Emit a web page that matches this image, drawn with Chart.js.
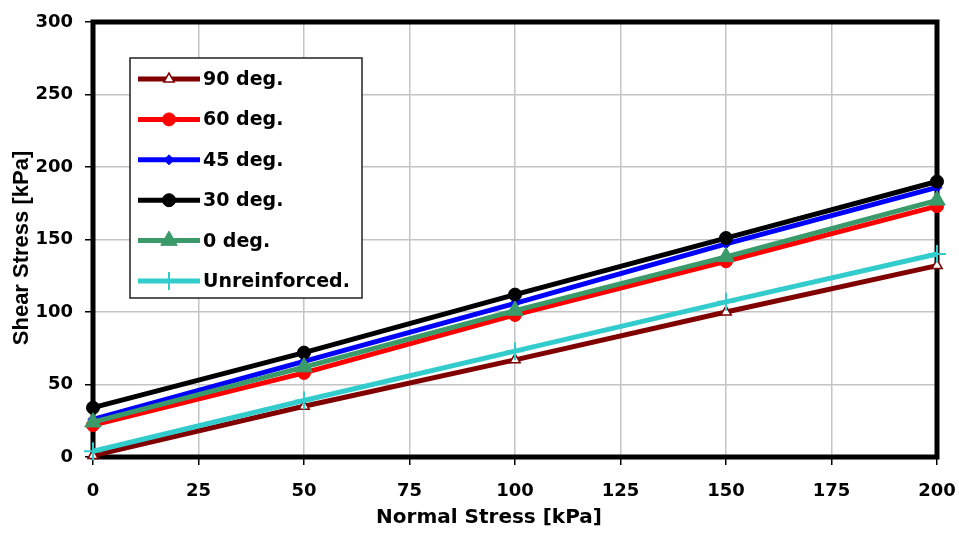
<!DOCTYPE html>
<html>
<head>
<meta charset="utf-8">
<script src="https://cdn.jsdelivr.net/npm/chart.js"></script>
<style>
  html, body { margin: 0; padding: 0; background: #fff; }
  #wrap { width: 959px; height: 533px; }
</style>
</head>
<body>
<div id="wrap"><canvas id="chart" width="959" height="533"></canvas></div>
<script>
// values
const normalStress = [0, 50, 100, 150, 200];
const deg90 = [1, 35, 67, 100, 132];
const deg60 = [22, 58, 98, 135, 173];
const deg45 = [26, 66, 106, 147, 186];
const deg30 = [34, 72, 112, 151, 190];
const deg0 = [24, 62, 101, 138, 177];
const unreinforced = [4, 39, 73, 107, 140];

const seriesNames = ['90 deg.', '60 deg.', '45 deg.', '30 deg.', '0 deg.', 'Unreinforced.'];
const xTitle = 'Normal Stress [kPa]';
const yTitle = 'Shear Stress [kPa]';

const tickFont = { family: 'DejaVu Sans', size: 18, weight: 'bold' };

function pts(vals) {
    return vals.map((v, i) => ({ x: normalStress[i], y: v }));
}

function line(label, vals, color, style, radius, fill, bw, order) {
    return {
        label: label,
        data: pts(vals),
        borderColor: color,
        backgroundColor: color,
        borderWidth: 5,
        pointStyle: style,
        pointRadius: radius,
        pointHoverRadius: radius,
        pointBackgroundColor: fill,
        pointBorderColor: color,
        pointBorderWidth: bw,
        tension: 0,
        clip: false,
        order: order
    };
}

// frame drawn under the lines
const frame = {
    id: 'frame',
    beforeDatasetsDraw(chart) {
        const { ctx, chartArea: a } = chart;
        ctx.save();
        ctx.strokeStyle = '#000';
        ctx.lineWidth = 5;
        ctx.strokeRect(a.left, a.top, a.right - a.left, a.bottom - a.top);
        ctx.restore();
    }
};

// legend box inside the plot + axis titles
const boxLegend = {
    id: 'boxLegend',
    afterDraw(chart) {
        const ctx = chart.ctx;
        ctx.save();
        ctx.fillStyle = '#fff';
        ctx.fillRect(130, 58, 232, 240);
        ctx.strokeStyle = '#222';
        ctx.lineWidth = 1.5;
        ctx.strokeRect(130, 58, 232, 240);

        chart.data.datasets.forEach((ds, i) => {
            const y = 79 + i * 40.4;
            ctx.strokeStyle = ds.borderColor;
            ctx.lineWidth = ds.borderWidth;
            ctx.beginPath();
            ctx.moveTo(138, y);
            ctx.lineTo(200, y);
            ctx.stroke();
            ctx.fillStyle = ds.pointBackgroundColor;
            ctx.strokeStyle = ds.pointBorderColor;
            ctx.lineWidth = ds.pointBorderWidth;
            Chart.helpers.drawPoint(ctx, {
                pointStyle: ds.pointStyle,
                radius: ds.pointRadius,
                rotation: 0,
                borderWidth: ds.pointBorderWidth
            }, 169, y);
            ctx.fillStyle = '#000';
            ctx.font = 'bold 19px "DejaVu Sans"';
            ctx.textAlign = 'left';
            ctx.textBaseline = 'middle';
            ctx.fillText(ds.label, 203, y + 1);
        });

        ctx.fillStyle = '#000';
        ctx.font = 'bold 20px "DejaVu Sans"';
        ctx.textAlign = 'center';
        ctx.textBaseline = 'middle';
        ctx.fillText(xTitle, 489, 518);

        ctx.translate(22, 248);
        ctx.rotate(-Math.PI / 2);
        ctx.font = 'bold 22px "Liberation Sans"';
        ctx.fillText(yTitle, 0, 0);
        ctx.restore();
    }
};

new Chart(document.getElementById('chart'), {
    type: 'line',
    data: {
        datasets: [
            line(seriesNames[0], deg90, '#800000', 'triangle', 6, '#fff', 1.5, 6),
            line(seriesNames[1], deg60, '#ff0000', 'circle', 6.5, '#ff0000', 1, 5),
            line(seriesNames[2], deg45, '#0000ff', 'rectRot', 5, '#0000ff', 1, 4),
            line(seriesNames[3], deg30, '#000000', 'circle', 6.5, '#000000', 1, 3),
            line(seriesNames[4], deg0, '#3a9a6a', 'triangle', 9.5, '#3a9a6a', 1, 2),
            line(seriesNames[5], unreinforced, '#33cccc', 'cross', 9, '#33cccc', 2, 1)
        ]
    },
    options: {
        responsive: false,
        animation: false,
        layout: { padding: { left: 0, right: 22, top: 22, bottom: 0 } },
        plugins: {
            legend: { display: false },
            tooltip: { enabled: false }
        },
        scales: {
            x: {
                type: 'linear',
                min: 0,
                max: 200,
                ticks: { stepSize: 25, color: '#000', font: tickFont, padding: 16, maxRotation: 0 },
                grid: { color: '#c4c4c4', lineWidth: 1.5, tickLength: 8, tickColor: '#000', tickWidth: 1.5 },
                border: { display: false },
                afterFit(scale) {
                    scale.height = 76;
                    scale.paddingLeft = 0;
                    scale.paddingRight = 0;
                }
            },
            y: {
                min: 0,
                max: 300,
                ticks: { stepSize: 50, color: '#000', font: tickFont, padding: 12 },
                grid: { color: '#c4c4c4', lineWidth: 1.5, tickLength: 8, tickColor: '#000', tickWidth: 1.5 },
                border: { display: false },
                afterFit(scale) {
                    scale.width = 93;
                    scale.paddingTop = 0;
                    scale.paddingBottom = 0;
                }
            }
        }
    },
    plugins: [frame, boxLegend]
});
</script>
</body>
</html>
